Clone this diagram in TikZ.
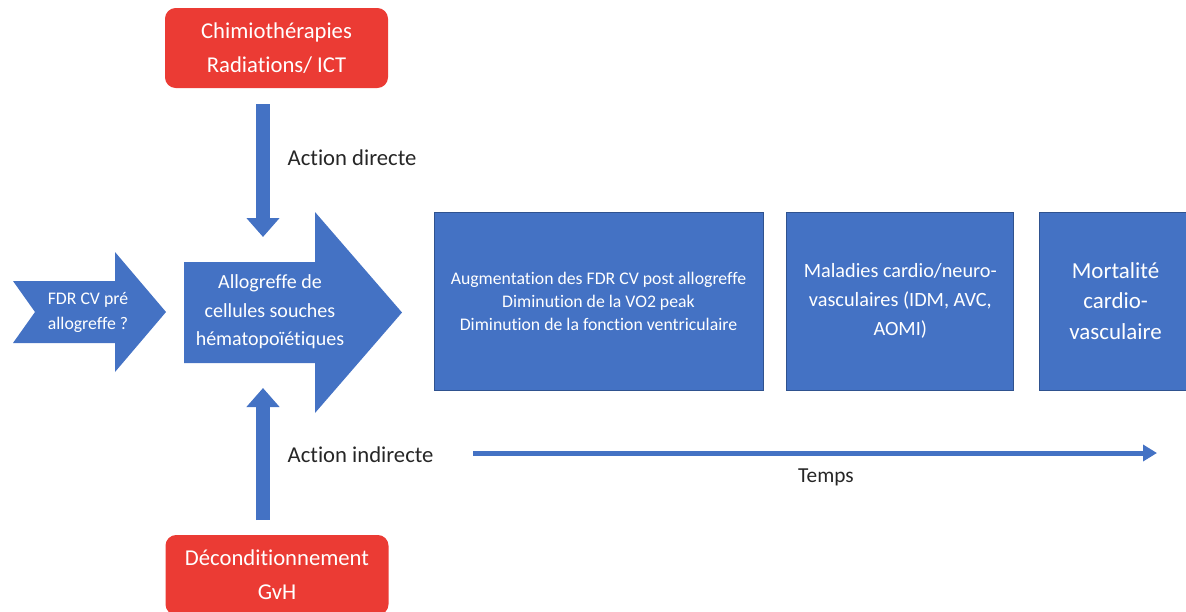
\documentclass[tikz,border=0pt]{standalone}
\usepackage{fontspec}
\setmainfont{Carlito}[Ligatures=NoCommon]
\usetikzlibrary{arrows.meta,positioning}

\definecolor{blocblue}{HTML}{4472C4}
\definecolor{bordblue}{HTML}{2F528F}
\definecolor{blocred}{HTML}{EB3B34}

\begin{document}
\begin{tikzpicture}[x=0.75pt, y=-0.75pt]

\tikzstyle{rouge}=[rectangle, rounded corners=8pt, fill=blocred, text=white, minimum width=167.25pt, minimum height=60pt, align=center, font=\fontsize{17}{25.5}\selectfont]
\tikzstyle{bloc}=[rectangle, fill=blocblue, draw=bordblue, line width=0.6pt, text=white, minimum height=133.5pt, align=center]
\tikzstyle{fleche}=[fill=blocblue]
\tikzstyle{vfleche}=[line width=10.5pt, draw=blocblue, -{Triangle[width=24pt, length=14.25pt]}]
\tikzstyle{temps}=[line width=3.75pt, draw=blocblue, -{Triangle[width=12pt, length=10.5pt]}]
\tikzstyle{etiq}=[font=\fontsize{17}{20}\selectfont, text=black!85]

\useasboundingbox (0,0) rectangle (1186,611);

\node[rouge] (chimio) at (276.5,48) {Chimiothérapies\\Radiations/ ICT};
\node[rouge] (decond) at (277,575) {Déconditionnement\\GvH};

\fill[fleche] (13,281) -- (115,281) -- (115,252) -- (166,312) -- (115,372) -- (115,343) -- (13,343) -- (35,312) -- cycle;
\node[text=white, align=center, font=\fontsize{13.3}{18.75}\selectfont] (fdr) at (88,312) {FDR CV pré\\allogreffe ?};

\fill[fleche] (184,262) -- (315,262) -- (315,212) -- (402,312.5) -- (315,413) -- (315,363) -- (184,363) -- cycle;
\node[text=white, align=center, font=\fontsize{15}{21.4}\selectfont] (allo) at (270,312) {Allogreffe de\\cellules souches\\hématopoïétiques};

\coordinate (dHaut) at (263,104);
\coordinate (dBas) at (263,237);
\coordinate (iBas) at (263,520);
\coordinate (iHaut) at (263,388);
\draw[vfleche] (dHaut) -- (dBas);
\draw[vfleche] (iBas) -- (iHaut);

\node[etiq, anchor=west] (directe) at (283,158) {Action directe};
\node[etiq, anchor=west] (indirecte) at (283,455) {Action indirecte};

\node[bloc, minimum width=246.75pt, font=\fontsize{13.3}{17.25}\selectfont] (fdrpost) at (598.5,301) {Augmentation des FDR CV post allogreffe\\Diminution de la VO2 peak\\Diminution de la fonction ventriculaire};
\node[bloc, minimum width=170.25pt, font=\fontsize{15.2}{21.75}\selectfont, right=17.25pt of fdrpost] (maladies) {Maladies cardio/neuro-\\vasculaires (IDM, AVC,\\AOMI)};
\node[bloc, minimum width=114pt, font=\fontsize{17.2}{23}\selectfont, right=18.75pt of maladies] (mortalite) {Mortalité\\cardio-\\vasculaire};

\coordinate (t0) at (473,453);
\coordinate (t1) at (1157,453);
\draw[temps] (t0) -- (t1);
\node[etiq, font=\fontsize{16}{19}\selectfont] (tps) at (826,477) {Temps};

\end{tikzpicture}
\end{document}
